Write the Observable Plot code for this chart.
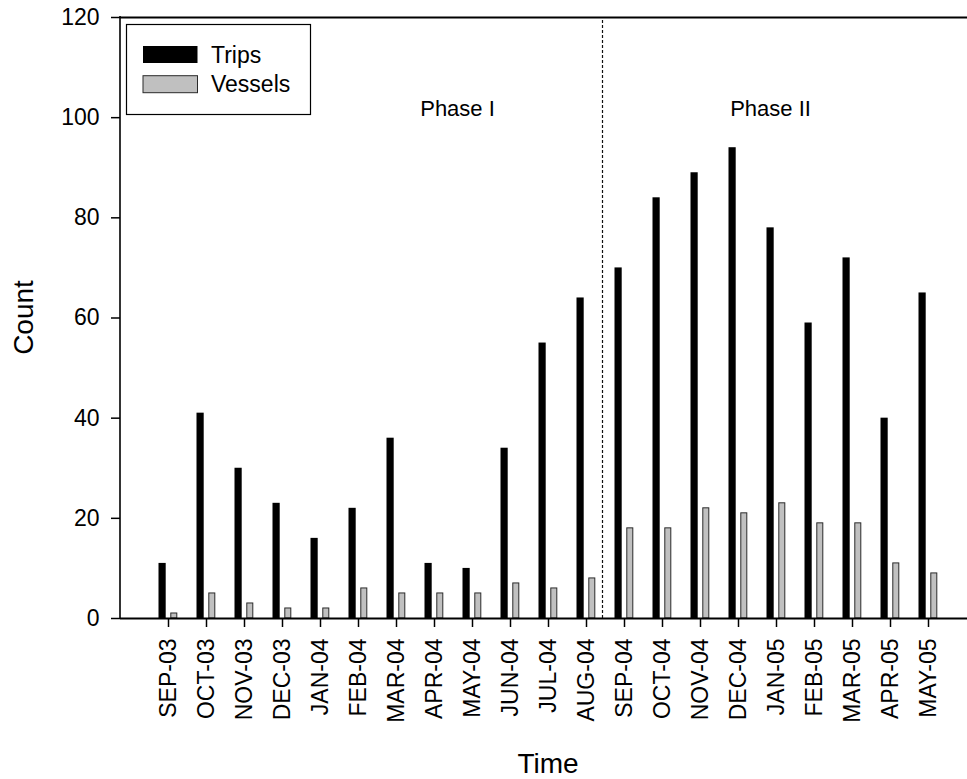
<!DOCTYPE html>
<html>
<head>
<meta charset="utf-8">
<script src="https://cdn.jsdelivr.net/npm/d3@7"></script>
<script src="https://cdn.jsdelivr.net/npm/@observablehq/plot@0.6"></script>
<style>
  html, body { margin: 0; padding: 0; background: #fff; }
  #chart { position: relative; width: 967px; height: 779px; }
</style>
</head>
<body>
<div id="chart"></div>
<script>
const months = ["SEP-03","OCT-03","NOV-03","DEC-03","JAN-04","FEB-04","MAR-04","APR-04","MAY-04","JUN-04","JUL-04","AUG-04","SEP-04","OCT-04","NOV-04","DEC-04","JAN-05","FEB-05","MAR-05","APR-05","MAY-05"];
const trips   = [11,41,30,23,16,22,36,11,10,34,55,64,70,84,89,94,78,59,72,40,65];
const vessels = [1,5,3,2,2,6,5,5,5,7,6,8,18,18,22,21,23,19,19,11,9];
const yTicks = [0,20,40,60,80,100,120];
const seriesNames = ["Trips","Vessels"];
const seriesColors = ["#000000","#c0c0c0"];
const phaseBoundary = "SEP-04";
const phaseLabels = ["Phase I","Phase II"];
const phaseMonths = ["APR-04","JAN-05"];
const phaseLevel = 100.4;
const xTitle = "Time";
const yTitle = "Count";

const tripsData = months.map((m, i) => ({month: m, value: trips[i]}));
const vesselsData = months.map((m, i) => ({month: m, value: vessels[i]}));

const FONT = "Arial, 'Liberation Sans', sans-serif";

const svg = Plot.plot({
  width: 967,
  height: 779,
  marginTop: 17,
  marginBottom: 161,
  marginLeft: 120,
  marginRight: 0,
  style: {fontFamily: FONT, fontSize: "22px", color: "#000", background: "#fff", overflow: "visible"},
  x: {type: "band", domain: months, range: [139.5, 957.4], padding: 0, label: null},
  y: {domain: [0, 120], label: null},
  marks: [
    Plot.barY(tripsData, {x: "month", y: "value", fill: seriesColors[0], insetLeft: 9.5, insetRight: 21.3}),
    Plot.barY(vesselsData, {x: "month", y: "value", fill: seriesColors[1], stroke: "#2a2a2a", strokeWidth: 1, insetLeft: 21.8, insetRight: 10.2}),
    Plot.ruleX([phaseBoundary], {x: d => d, y1: 0, y2: 120, dx: -22, stroke: "#111", strokeWidth: 1.2, strokeDasharray: "3,2"}),
    Plot.ruleY([0, 120], {stroke: "#000", strokeWidth: 2}),
    Plot.axisX({tickSize: 9, tickPadding: 11, tickRotate: -90, strokeWidth: 1.5, fontSize: 23, label: null}),
    Plot.axisY({ticks: yTicks, tickSize: 9, tickPadding: 12, strokeWidth: 1.5, fontSize: 23, label: null}),
    Plot.text([phaseLabels[0]], {x: () => phaseMonths[0], y: () => phaseLevel, dx: 23, lineAnchor: "bottom", fontSize: 22}),
    Plot.text([phaseLabels[1]], {x: () => phaseMonths[1], y: () => phaseLevel, dx: -6, lineAnchor: "bottom", fontSize: 22})
  ]
});

document.getElementById("chart").appendChild(svg);

const s = d3.select(svg);
const y = svg.scale("y");
// left axis line
s.append("line")
  .attr("x1", 120).attr("x2", 120)
  .attr("y1", y.apply(0) + 1).attr("y2", y.apply(120) - 1)
  .attr("stroke", "#000").attr("stroke-width", 1.6);

// axis titles
s.append("text")
  .attr("transform", `translate(33,${(y.apply(0) + y.apply(120)) / 2}) rotate(-90)`)
  .attr("text-anchor", "middle")
  .attr("font-family", FONT).attr("font-size", 28).attr("fill", "#000")
  .text(yTitle);
s.append("text")
  .attr("x", 548).attr("y", 773)
  .attr("text-anchor", "middle")
  .attr("font-family", FONT).attr("font-size", 28).attr("fill", "#000")
  .text(xTitle);

// legend
const lg = s.append("g").attr("font-family", FONT).attr("font-size", 23).attr("text-anchor", "start");
lg.append("rect").attr("x", 126.5).attr("y", 24.5).attr("width", 184).attr("height", 90)
  .attr("fill", "#fff").attr("stroke", "#000").attr("stroke-width", 1.2);
seriesNames.forEach((name, i) => {
  const yy = 46 + i * 29.7;
  lg.append("rect").attr("x", 143).attr("y", yy).attr("width", 54.5).attr("height", 17)
    .attr("fill", seriesColors[i]).attr("stroke", i === 0 ? "none" : "#2a2a2a").attr("stroke-width", 1);
  lg.append("text").attr("x", 211).attr("y", yy + 16.5).attr("fill", "#000").attr("text-anchor", "start").text(name);
});
</script>
</body>
</html>
